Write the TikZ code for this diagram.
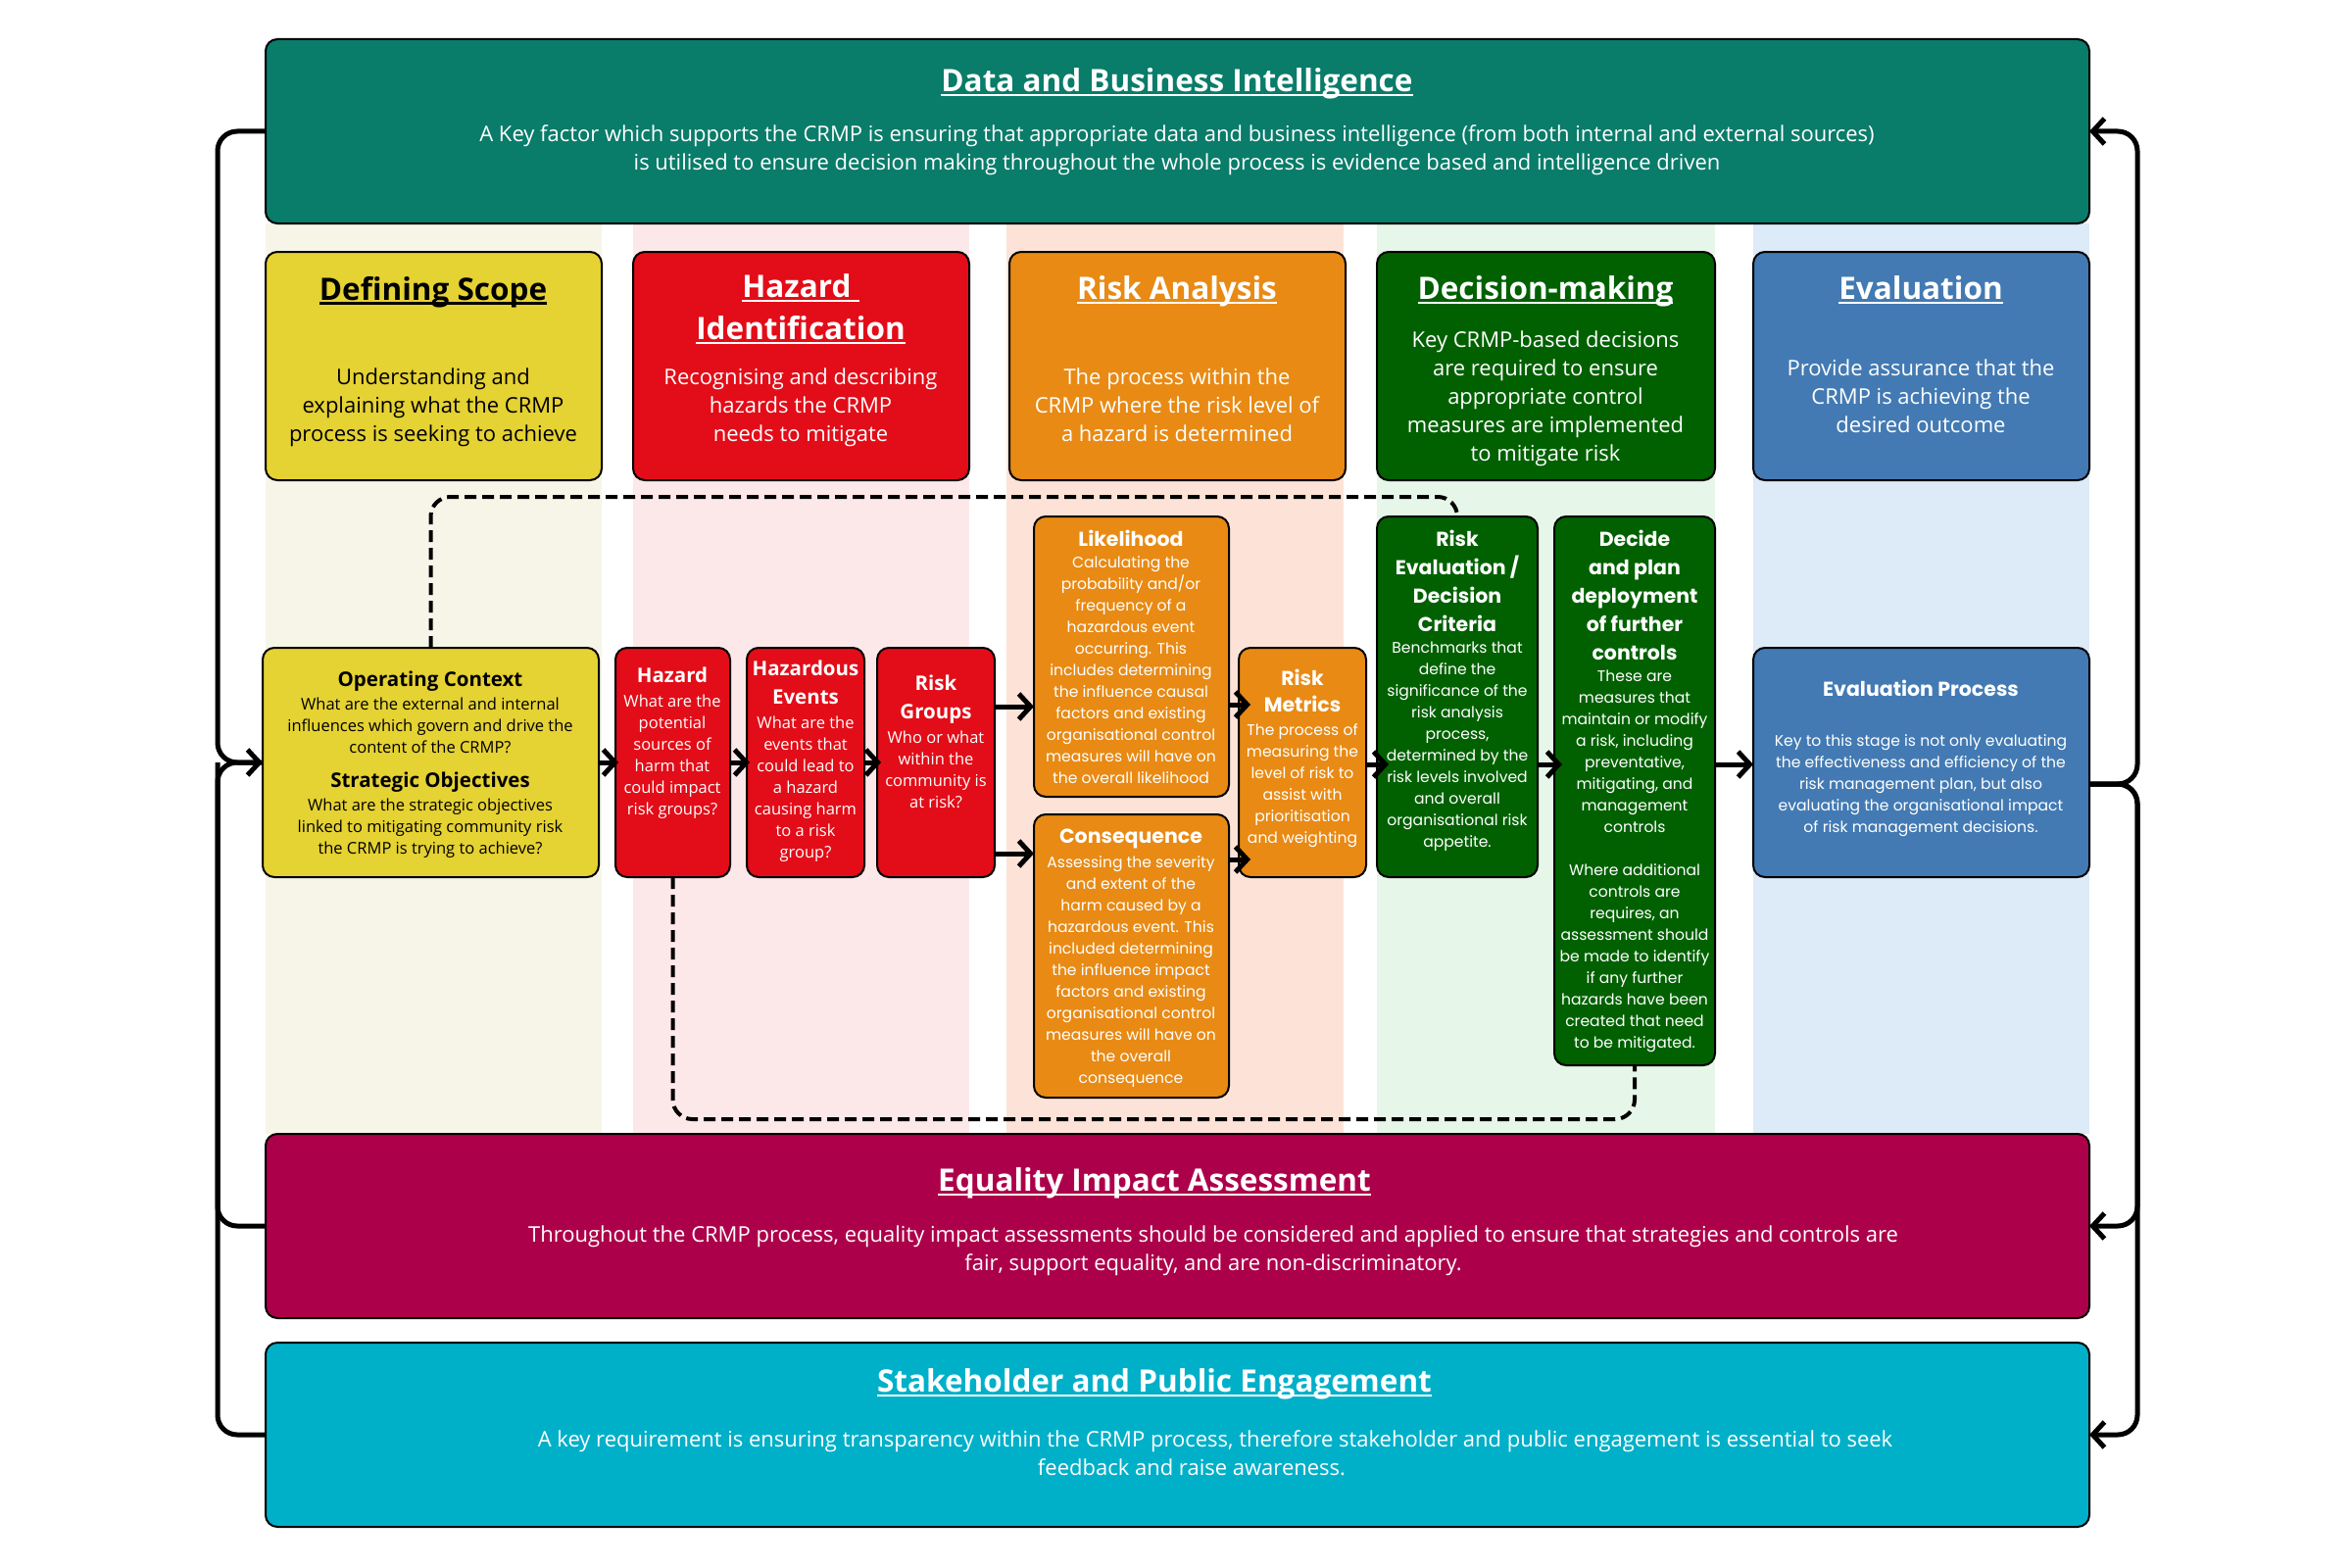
\documentclass[tikz,border=0pt]{standalone}
\usepackage{fontspec}
\setmainfont{Open Sans}
\newfontfamily\pop{Poppins}
\newcommand\ulx[1]{\leavevmode\setbox0\hbox{#1}\rlap{\rule[-4.5pt]{\wd0}{2.5pt}}\box0}
\usetikzlibrary{arrows.meta,fit}
\definecolor{cData}{RGB}{9,124,106}
\definecolor{cEIA}{RGB}{173,0,74}
\definecolor{cStk}{RGB}{0,176,201}
\definecolor{cYel}{RGB}{229,210,51}
\definecolor{cRed}{RGB}{226,13,24}
\definecolor{cOra}{RGB}{232,138,20}
\definecolor{cGrn}{RGB}{1,97,1}
\definecolor{cBlu}{RGB}{67,122,179}
\definecolor{bgA}{RGB}{247,245,232}
\definecolor{bgB}{RGB}{253,232,233}
\definecolor{bgC}{RGB}{253,227,215}
\definecolor{bgD}{RGB}{230,246,232}
\definecolor{bgE}{RGB}{221,234,247}
\begin{document}
\begin{tikzpicture}[x=1pt,y=-1pt,
  cbox/.style={draw=black, line width=2pt, rounded corners=12pt, inner sep=0pt, outer sep=0pt},
  tx/.style={anchor=north, align=center, inner sep=0pt, outer sep=0pt, text=white},
  bigtitle/.style={font=\fontsize{31.5}{43}\selectfont\bfseries},
  bigbody/.style={font=\fontsize{22}{29}\selectfont},
  stitle/.style={font=\fontsize{20.5}{29}\selectfont\bfseries},
  sbody/.style={font=\fontsize{16.5}{22}\selectfont},
  ptitle/.style={font=\pop\fontsize{20.5}{29}\selectfont\bfseries},
  pbody/.style={font=\pop\fontsize{15.6}{22}\selectfont},
  flow/.style={line width=5pt, -{Straight Barb[length=12pt,width=26pt]}},
  bracearm/.style={line width=5pt, rounded corners=20pt},
  dashloop/.style={line width=4pt, dash pattern=on 12pt off 6pt, rounded corners=20pt}]
\useasboundingbox (0,0) rectangle (2400,1600);
\fill[white] (0,0) rectangle (2400,1600);
% column backgrounds
\fill[bgA] (271,228) rectangle (614,1157);
\fill[bgB] (646,228) rectangle (989,1157);
\fill[bgC] (1027,228) rectangle (1371,1157);
\fill[bgD] (1405,228) rectangle (1750,1157);
\fill[bgE] (1789,228) rectangle (2132,1157);
% wide boxes
\node[cbox, fill=cData, fit={(271,40)(2132,228)}] (data) {};
\node[cbox, fill=cEIA, fit={(271,1157)(2132,1345)}] (eia) {};
\node[cbox, fill=cStk, fit={(271,1370)(2132,1558)}] (stk) {};
% header boxes
\node[cbox, fill=cYel, fit={(271,257)(614,490)}] (def) {};
\node[cbox, fill=cRed, fit={(646,257)(989,490)}] (hid) {};
\node[cbox, fill=cOra, fit={(1030,257)(1373,490)}] (ra) {};
\node[cbox, fill=cGrn, fit={(1405,257)(1750,490)}] (dm) {};
\node[cbox, fill=cBlu, fit={(1789,257)(2132,490)}] (ev) {};
% process boxes
\node[cbox, fill=cYel, fit={(268,661)(611,895)}] (oc) {};
\node[cbox, fill=cRed, fit={(628,661)(745,895)}] (hz) {};
\node[cbox, fill=cRed, fit={(762,661)(882,895)}] (he) {};
\node[cbox, fill=cRed, fit={(895,661)(1015,895)}] (rg) {};
\node[cbox, fill=cOra, fit={(1055,527)(1254,813)}] (lk) {};
\node[cbox, fill=cOra, fit={(1055,831)(1254,1120)}] (cq) {};
\node[cbox, fill=cOra, fit={(1264,661)(1394,895)}] (rm) {};
\node[cbox, fill=cGrn, fit={(1405,527)(1569,895)}] (re) {};
\node[cbox, fill=cGrn, fit={(1586,527)(1750,1087)}] (dec) {};
\node[cbox, fill=cBlu, fit={(1789,661)(2132,895)}] (ep) {};
% texts: wide boxes
\node[tx, bigtitle] (dataT) at (1201,70) {\ulx{Data and Business Intelligence}};
\node[tx, bigbody] (dataB) at (1201,128) {A Key factor which supports the CRMP is ensuring that appropriate data and business intelligence (from both internal and external sources)\\is utilised to ensure decision making throughout the whole process is evidence based and intelligence driven};
\node[tx, bigtitle] (eiaT) at (1178,1192) {\ulx{Equality Impact Assessment}};
\node[tx, bigbody] (eiaB) at (1238,1251) {Throughout the CRMP process, equality impact assessments should be considered and applied to ensure that strategies and controls are\\fair, support equality, and are non-discriminatory.};
\node[tx, bigtitle] (stkT) at (1178,1397) {\ulx{Stakeholder and Public Engagement}};
\node[tx, bigbody] (stkB) at (1240,1460) {A key requirement is ensuring transparency within the CRMP process, therefore stakeholder and public engagement is essential to seek\\feedback and raise awareness.\hspace*{48pt}};
% header texts
\node[tx, bigtitle, text=black] (defT) at (442,282) {\ulx{Defining Scope}};
\node[tx, bigbody, text=black] (defB) at (442,376) {Understanding and\\explaining what the CRMP\\process is seeking to achieve};
\node[tx, bigtitle] (hidT) at (817,280) {\ulx{Hazard\ }\\\ulx{Identification}};
\node[tx, bigbody] (hidB) at (817,376) {Recognising and describing\\hazards the CRMP\\needs to mitigate};
\node[tx, bigtitle] (raT) at (1201,282) {\ulx{Risk Analysis}};
\node[tx, bigbody] (raB) at (1201,376) {The process within the\\CRMP where the risk level of\\a hazard is determined};
\node[tx, bigtitle] (dmT) at (1577,282) {\ulx{Decision-making}};
\node[tx, bigbody] (dmB) at (1577,338) {Key CRMP-based decisions\\are required to ensure\\appropriate control\\measures are implemented\\to mitigate risk};
\node[tx, bigtitle] (evT) at (1960,282) {\ulx{Evaluation}};
\node[tx, bigbody] (evB) at (1960,367) {Provide assurance that the\\CRMP is achieving the\\desired outcome};
% process texts
\node[tx, stitle, text=black] (ocT1) at (439,685) {Operating Context};
\node[tx, sbody, text=black] (ocB1) at (439,712) {What are the external and internal\\influences which govern and drive the\\content of the CRMP?};
\node[tx, stitle, text=black] (ocT2) at (439,788) {Strategic Objectives};
\node[tx, sbody, text=black] (ocB2) at (439,815) {What are the strategic objectives\\linked to mitigating community risk\\the CRMP is trying to achieve?};
\node[tx, stitle] (hzT) at (686,681) {Hazard};
\node[tx, sbody] (hzB) at (686,709) {What are the\\potential\\sources of\\harm that\\could impact\\risk groups?};
\node[tx, stitle] (heT) at (822,674) {Hazardous\\Events};
\node[tx, sbody] (heB) at (822,731) {What are the\\events that\\could lead to\\a hazard\\causing harm\\to a risk\\group?};
\node[tx, stitle] (rgT) at (955,689) {Risk\\Groups};
\node[tx, sbody] (rgB) at (955,746) {Who or what\\within the\\community is\\at risk?};
\node[tx, ptitle] (lkT) at (1154,541) {Likelihood};
\node[tx, pbody] (lkB) at (1154,568) {Calculating the\\probability and/or\\frequency of a\\hazardous event\\occurring. This\\includes determining\\the influence causal\\factors and existing\\organisational control\\measures will have on\\the overall likelihood};
\node[tx, ptitle] (cqT) at (1154,846) {Consequence};
\node[tx, pbody] (cqB) at (1154,874) {Assessing the severity\\and extent of the\\harm caused by a\\hazardous event. This\\included determining\\the influence impact\\factors and existing\\organisational control\\measures will have on\\the overall\\consequence};
\node[tx, ptitle, font=\pop\fontsize{20.5}{27.5}\selectfont\bfseries] (rmT) at (1329,683) {Risk\\Metrics};
\node[tx, pbody] (rmB) at (1329,739) {The process of\\measuring the\\level of risk to\\assist with\\prioritisation\\and weighting};
\node[tx, ptitle] (reT) at (1487,541) {Risk\\Evaluation /\\Decision\\Criteria};
\node[tx, pbody] (reB) at (1487,655) {Benchmarks that\\define the\\significance of the\\risk analysis\\process,\\determined by the\\risk levels involved\\and overall\\organisational risk\\appetite.};
\node[tx, ptitle] (decT) at (1668,541) {Decide\\and plan\\deployment\\of further\\controls};
\node[tx, pbody] (decB) at (1668,684) {These are\\measures that\\maintain or modify\\a risk, including\\preventative,\\mitigating, and\\management\\controls\\[22pt]Where additional\\controls are\\requires, an\\assessment should\\be made to identify\\if any further\\hazards have been\\created that need\\to be mitigated.};
\node[tx, ptitle] (epT) at (1960,694) {Evaluation Process};
\node[tx, pbody] (epB) at (1960,750) {Key to this stage is not only evaluating\\the effectiveness and efficiency of the\\risk management plan, but also\\evaluating the organisational impact\\of risk management decisions.};
% helper levels
\coordinate (yA) at (0,721);
\coordinate (yB) at (0,871);
\coordinate (yC) at (0,719);
\coordinate (yD) at (0,877);
\coordinate (yE) at (0,780);
\coordinate (yL) at (0,507);
\coordinate (yM) at (0,1142);
\coordinate (xL) at (222,778);
\coordinate (xR) at (2181,0);
% dashed loops
\draw[dashloop] (oc.north) |- (re.north |- yL) -- (re.north);
\draw[dashloop] (hz.south) |- (dec.south |- yM) -- (dec.south);
% flow arrows
\draw[flow] (oc.east) -- ([xshift=3pt]hz.west);
\draw[flow] (hz.east) -- ([xshift=3pt]he.west);
\draw[flow] (he.east) -- ([xshift=4pt]rg.west);
\draw[flow] (rg.east |- yA) -- (lk.west |- yA);
\draw[flow] (rg.east |- yB) -- (cq.west |- yB);
\draw[flow] (lk.east |- yC) -- ([xshift=12pt]rm.west |- yC);
\draw[flow] (cq.east |- yD) -- ([xshift=12pt]rm.west |- yD);
\draw[flow] (rm.east |- yE) -- ([xshift=12pt]re.west |- yE);
\draw[flow] (re.east |- yE) -- ([xshift=8pt]dec.west |- yE);
\draw[flow] (dec.east |- yE) -- (ep.west |- yE);
% left brace
\draw[bracearm, -{Straight Barb[length=12pt,width=26pt]}] (data.west) -| (xL) -- (oc.west);
\draw[bracearm] (stk.west) -| (xL) -- (oc.west);
\draw[bracearm] (eia.west) -| (xL);
% right brace
\coordinate (epo) at ([yshift=-22pt]ep.east);
\draw[bracearm, -{Straight Barb[length=12pt,width=26pt]}] (epo) -| (xR |- data.east) -- (data.east);
\draw[bracearm, -{Straight Barb[length=12pt,width=26pt]}] (epo) -| (xR |- eia.east) -- (eia.east);
\draw[bracearm, -{Straight Barb[length=12pt,width=26pt]}] (epo) -| (xR |- stk.east) -- (stk.east);
\end{tikzpicture}
\end{document}
